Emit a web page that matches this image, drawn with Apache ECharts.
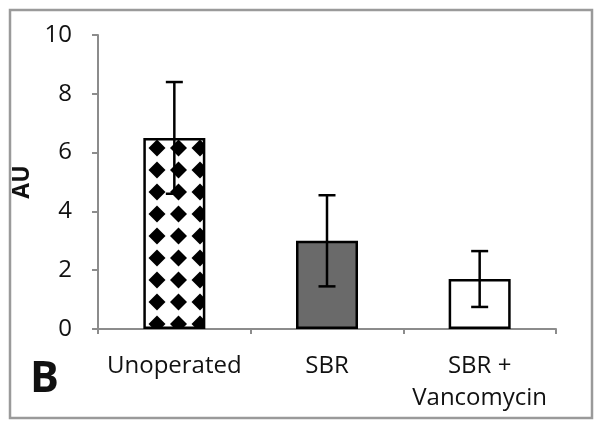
<!DOCTYPE html>
<html><head><meta charset="utf-8">
<script src="https://cdn.jsdelivr.net/npm/echarts@6/dist/echarts.min.js"></script>
<style>html,body{margin:0;padding:0;background:#fff}#c{width:604px;height:431px}</style>
</head><body><div id="c"></div>
<script>
var categories = ['Unoperated', 'SBR', 'SBR +\nVancomycin'];
var means = [6.5, 3.0, 1.7];
var errors = [1.9, 1.55, 0.95];
var yTicks = [0, 2, 4, 6, 8, 10];

// diamond pattern tile (2 columns x 2 rows)
var TW = 43, TH = 44;
var tile = document.createElement('canvas');
tile.width = TW; tile.height = TH;
var tc = tile.getContext('2d');
tc.fillStyle = '#fff'; tc.fillRect(0, 0, TW, TH);
tc.fillStyle = '#000';
function diamond(cx, cy, hw, hh) {
  for (var dx = -TW; dx <= TW; dx += TW) {
    for (var dy = -TH; dy <= TH; dy += TH) {
      tc.beginPath();
      tc.moveTo(cx + dx, cy + dy - hh); tc.lineTo(cx + dx + hw, cy + dy);
      tc.lineTo(cx + dx, cy + dy + hh); tc.lineTo(cx + dx - hw, cy + dy);
      tc.closePath(); tc.fill();
    }
  }
}
[6.5, 28].forEach(function (cx) {
  [16, 38].forEach(function (cy) { diamond(cx, cy, 8.5, 8.5); });
});

var fills = [{image: tile, repeat: 'repeat'}, '#6a6a6a', '#ffffff'];

var chart = echarts.init(document.getElementById('c'), null, {renderer: 'canvas'});
var font = 'Open Sans';
chart.setOption({
  animation: false,
  grid: {left: 98, right: 48, top: 35, bottom: 102},
  xAxis: {
    type: 'category', data: categories,
    axisLine: {lineStyle: {color: '#8c8c8c', width: 2}},
    axisTick: {show: true, length: 5, lineStyle: {color: '#8c8c8c', width: 2}},
    axisLabel: {color: '#111', fontSize: 24, fontFamily: font, margin: 21, lineHeight: 32, interval: 0}
  },
  yAxis: {
    type: 'value', min: 0, max: 10, interval: 2,
    name: 'AU', nameLocation: 'middle', nameGap: 63, nameRotate: 90,
    nameTextStyle: {fontSize: 23, fontWeight: 'bold', fontFamily: font, color: '#111'},
    axisLine: {show: true, lineStyle: {color: '#8c8c8c', width: 2}},
    axisTick: {show: true, length: 6, lineStyle: {color: '#8c8c8c', width: 2}},
    splitLine: {show: false},
    axisLabel: {color: '#111', fontSize: 24, fontFamily: font, margin: 26,
      formatter: function (v) { return yTicks.indexOf(v) >= 0 ? String(v) : ''; }}
  },
  series: [{
    type: 'bar', barWidth: 62,
    data: means.map(function (v, i) {
      return {value: v, itemStyle: {color: fills[i]}};
    }),
    itemStyle: {borderColor: '#000', borderWidth: 2.5},
    z: 2
  }, {
    type: 'custom', z: 3,
    data: means.map(function (v, i) { return [i, v - errors[i], v + errors[i]]; }),
    renderItem: function (params, api) {
      var x = api.value(0);
      var lo = api.coord([x, api.value(1)]);
      var hi = api.coord([x, api.value(2)]);
      var hw = 8.5;
      var st = {stroke: '#000', lineWidth: 2.5};
      return {type: 'group', children: [
        {type: 'line', shape: {x1: lo[0], y1: lo[1], x2: hi[0], y2: hi[1]}, style: st},
        {type: 'line', shape: {x1: hi[0] - hw, y1: hi[1], x2: hi[0] + hw, y2: hi[1]}, style: st},
        {type: 'line', shape: {x1: lo[0] - hw, y1: lo[1], x2: lo[0] + hw, y2: lo[1]}, style: st}
      ]};
    }
  }],
  graphic: [
    {type: 'rect', shape: {x: 10, y: 10, width: 582, height: 408},
     style: {fill: 'none', stroke: '#9a9a9a', lineWidth: 2.5}, z: 0},
    {type: 'text', left: 30, top: 358,
     style: {text: 'B', fontSize: 43, fontWeight: 'bold', fontFamily: font, fill: '#111'}}
  ]
});
</script></body></html>
